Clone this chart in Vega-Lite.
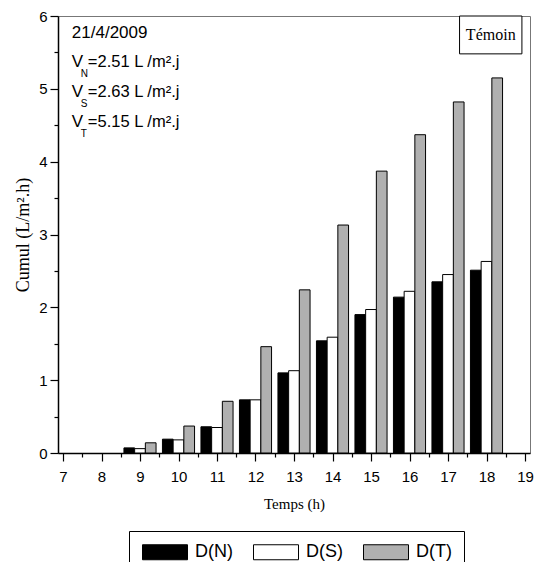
{
  "$schema": "https://vega.github.io/schema/vega-lite/v6.json",
  "width": 472,
  "height": 437,
  "autosize": {"type": "none"},
  "padding": {"left": 58, "top": 16, "right": 10, "bottom": 109},
  "background": "white",
  "config": {
    "view": {"stroke": "#777777", "strokeWidth": 1},
    "axis": {
      "domainColor": "black",
      "domainWidth": 1.5,
      "tickColor": "black",
      "tickWidth": 1.2,
      "labelColor": "black",
      "labelFont": "Liberation Sans",
      "labelFontSize": 15,
      "labelOverlap": false,
      "labelFlush": false,
      "titleColor": "black",
      "titleFont": "Liberation Serif",
      "titleFontWeight": "normal",
      "grid": false
    }
  },
  "resolve": {"axis": {"x": "independent", "y": "independent"}},
  "layer": [
    {
      "data": {
        "values": [
          {"hour": 9, "series": "D(N)", "value": 0.07},
          {"hour": 9, "series": "D(S)", "value": 0.06},
          {"hour": 9, "series": "D(T)", "value": 0.14},
          {"hour": 10, "series": "D(N)", "value": 0.19},
          {"hour": 10, "series": "D(S)", "value": 0.18},
          {"hour": 10, "series": "D(T)", "value": 0.37},
          {"hour": 11, "series": "D(N)", "value": 0.36},
          {"hour": 11, "series": "D(S)", "value": 0.35},
          {"hour": 11, "series": "D(T)", "value": 0.71},
          {"hour": 12, "series": "D(N)", "value": 0.73},
          {"hour": 12, "series": "D(S)", "value": 0.73},
          {"hour": 12, "series": "D(T)", "value": 1.46},
          {"hour": 13, "series": "D(N)", "value": 1.10},
          {"hour": 13, "series": "D(S)", "value": 1.13},
          {"hour": 13, "series": "D(T)", "value": 2.24},
          {"hour": 14, "series": "D(N)", "value": 1.54},
          {"hour": 14, "series": "D(S)", "value": 1.59},
          {"hour": 14, "series": "D(T)", "value": 3.13},
          {"hour": 15, "series": "D(N)", "value": 1.90},
          {"hour": 15, "series": "D(S)", "value": 1.97},
          {"hour": 15, "series": "D(T)", "value": 3.87},
          {"hour": 16, "series": "D(N)", "value": 2.14},
          {"hour": 16, "series": "D(S)", "value": 2.22},
          {"hour": 16, "series": "D(T)", "value": 4.37},
          {"hour": 17, "series": "D(N)", "value": 2.35},
          {"hour": 17, "series": "D(S)", "value": 2.45},
          {"hour": 17, "series": "D(T)", "value": 4.82},
          {"hour": 18, "series": "D(N)", "value": 2.51},
          {"hour": 18, "series": "D(S)", "value": 2.63},
          {"hour": 18, "series": "D(T)", "value": 5.15}
        ]
      },
      "encoding": {
        "x": {
          "field": "hour",
          "type": "quantitative",
          "scale": {"domain": [7, 19], "nice": false, "zero": false},
          "axis": {
            "title": "Temps (h)",
            "titleFontSize": 15,
            "values": [7, 7.5, 8, 8.5, 9, 9.5, 10, 10.5, 11, 11.5, 12, 12.5, 13, 13.5, 14, 14.5, 15, 15.5, 16, 16.5, 17, 17.5, 18, 18.5, 19],
            "labelExpr": "datum.value % 1 === 0 ? format(datum.value, 'd') : ''",
            "tickSize": {"condition": {"test": "datum.value % 1 === 0", "value": 8}, "value": 4},
            "labelPadding": 8,
            "titlePadding": 12,
            "labelFlush": false,
            "labelOverlap": false
          }
        },
        "y": {
          "field": "value",
          "type": "quantitative",
          "scale": {"domain": [0, 6], "nice": false},
          "axis": {
            "title": "Cumul (L/m².h)",
            "titleFontSize": 18,
            "values": [0, 0.5, 1, 1.5, 2, 2.5, 3, 3.5, 4, 4.5, 5, 5.5, 6],
            "labelExpr": "datum.value % 1 === 0 ? format(datum.value, 'd') : ''",
            "tickSize": {"condition": {"test": "datum.value % 1 === 0", "value": 8}, "value": 4},
            "labelPadding": 3,
            "titlePadding": 6,
            "labelFlush": false,
            "labelOverlap": false
          }
        },
        "fill": {
          "field": "series",
          "type": "nominal",
          "scale": {"domain": ["D(N)", "D(S)", "D(T)"], "range": ["black", "white", "#b0b0b0"]},
          "legend": {
            "orient": "none",
            "legendX": 71,
            "legendY": 515,
            "direction": "horizontal",
            "title": null,
            "symbolType": "M-1,-1H5V1H-1Z",
            "symbolSize": 225,
            "symbolStrokeColor": "black",
            "symbolStrokeWidth": 1,
            "symbolOpacity": 1,
            "labelFont": "Liberation Sans",
            "labelFontSize": 18,
            "labelColor": "black",
            "labelOffset": 36,
            "columnPadding": 18,
            "strokeColor": "black",
            "padding": 12
          }
        }
      },
      "layer": [
        {
          "transform": [{"filter": "datum.series === 'D(N)'"}],
          "mark": {"type": "bar", "width": 10.7, "xOffset": -10.7, "stroke": "black", "strokeWidth": 1}
        },
        {
          "transform": [{"filter": "datum.series === 'D(S)'"}],
          "mark": {"type": "bar", "width": 10.7, "xOffset": 0, "stroke": "black", "strokeWidth": 1}
        },
        {
          "transform": [{"filter": "datum.series === 'D(T)'"}],
          "mark": {"type": "bar", "width": 10.7, "xOffset": 10.7, "stroke": "black", "strokeWidth": 1}
        }
      ]
    },
    {
      "data": {"values": [{"label": "Témoin"}]},
      "mark": {"type": "rect", "fill": "white", "stroke": "black", "strokeWidth": 1},
      "encoding": {"x": {"datum": 17.30, "axis": null}, "x2": {"datum": 18.92}, "y": {"datum": 6, "axis": null}, "y2": {"datum": 5.48}}
    },
    {
      "data": {"values": [{"label": "Témoin"}]},
      "mark": {"type": "text", "font": "Liberation Serif", "fontSize": 16, "fill": "black", "align": "center", "baseline": "middle"},
      "encoding": {"text": {"field": "label"}, "x": {"datum": 18.11, "axis": null}, "y": {"datum": 5.74, "axis": null}}
    },
    {
      "data": {"values": [{"label": "21/4/2009"}]},
      "mark": {"type": "text", "font": "Liberation Sans", "fontSize": 17, "fill": "black", "align": "left", "baseline": "middle"},
      "encoding": {"text": {"field": "label"}, "x": {"datum": 7.23, "axis": null}, "y": {"datum": 5.77, "axis": null}}
    },
    {
      "data": {"values": [{"label": "V"}]},
      "mark": {"type": "text", "font": "Liberation Sans", "fontSize": 17, "fill": "black", "align": "left", "baseline": "middle"},
      "encoding": {"text": {"field": "label"}, "x": {"datum": 7.23, "axis": null}, "y": {"datum": 5.37, "axis": null}}
    },
    {
      "data": {"values": [{"label": "N"}]},
      "mark": {"type": "text", "font": "Liberation Sans", "fontSize": 10, "fill": "black", "align": "left", "baseline": "middle", "dx": 9, "dy": 12},
      "encoding": {"text": {"field": "label"}, "x": {"datum": 7.23, "axis": null}, "y": {"datum": 5.37, "axis": null}}
    },
    {
      "data": {"values": [{"label": "=2.51 L /m².j"}]},
      "mark": {"type": "text", "font": "Liberation Sans", "fontSize": 16.5, "fill": "black", "align": "left", "baseline": "middle", "dx": 16},
      "encoding": {"text": {"field": "label"}, "x": {"datum": 7.23, "axis": null}, "y": {"datum": 5.37, "axis": null}}
    },
    {
      "data": {"values": [{"label": "V"}]},
      "mark": {"type": "text", "font": "Liberation Sans", "fontSize": 17, "fill": "black", "align": "left", "baseline": "middle"},
      "encoding": {"text": {"field": "label"}, "x": {"datum": 7.23, "axis": null}, "y": {"datum": 4.96, "axis": null}}
    },
    {
      "data": {"values": [{"label": "S"}]},
      "mark": {"type": "text", "font": "Liberation Sans", "fontSize": 10, "fill": "black", "align": "left", "baseline": "middle", "dx": 9, "dy": 12},
      "encoding": {"text": {"field": "label"}, "x": {"datum": 7.23, "axis": null}, "y": {"datum": 4.96, "axis": null}}
    },
    {
      "data": {"values": [{"label": "=2.63 L /m².j"}]},
      "mark": {"type": "text", "font": "Liberation Sans", "fontSize": 16.5, "fill": "black", "align": "left", "baseline": "middle", "dx": 16},
      "encoding": {"text": {"field": "label"}, "x": {"datum": 7.23, "axis": null}, "y": {"datum": 4.96, "axis": null}}
    },
    {
      "data": {"values": [{"label": "V"}]},
      "mark": {"type": "text", "font": "Liberation Sans", "fontSize": 17, "fill": "black", "align": "left", "baseline": "middle"},
      "encoding": {"text": {"field": "label"}, "x": {"datum": 7.23, "axis": null}, "y": {"datum": 4.55, "axis": null}}
    },
    {
      "data": {"values": [{"label": "T"}]},
      "mark": {"type": "text", "font": "Liberation Sans", "fontSize": 10, "fill": "black", "align": "left", "baseline": "middle", "dx": 9, "dy": 12},
      "encoding": {"text": {"field": "label"}, "x": {"datum": 7.23, "axis": null}, "y": {"datum": 4.55, "axis": null}}
    },
    {
      "data": {"values": [{"label": "=5.15 L /m².j"}]},
      "mark": {"type": "text", "font": "Liberation Sans", "fontSize": 16.5, "fill": "black", "align": "left", "baseline": "middle", "dx": 16},
      "encoding": {"text": {"field": "label"}, "x": {"datum": 7.23, "axis": null}, "y": {"datum": 4.55, "axis": null}}
    }
  ]
}
